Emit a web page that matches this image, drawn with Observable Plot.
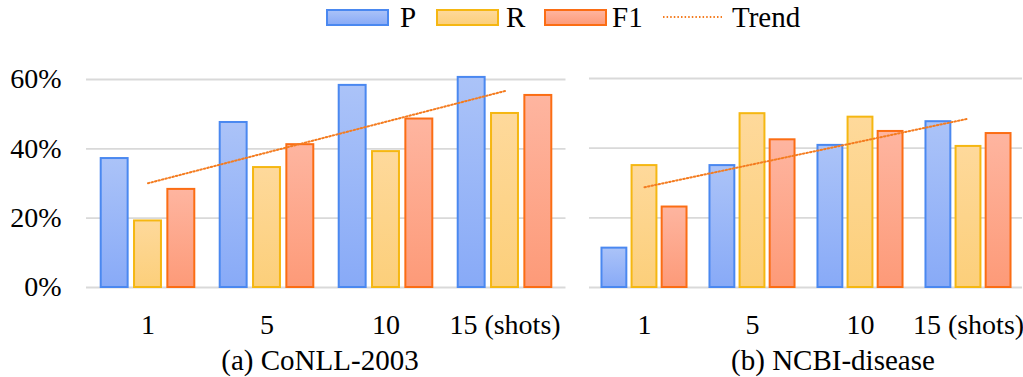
<!DOCTYPE html>
<html><head><meta charset="utf-8">
<script src="https://cdn.jsdelivr.net/npm/d3@7"></script>
<script src="https://cdn.jsdelivr.net/npm/@observablehq/plot@0.6"></script>
<style>
body{margin:0;background:#fff;}
#wrap{position:relative;width:1023px;height:377px;overflow:hidden;font-family:'Liberation Serif';}
#wrap > svg{position:absolute;top:0;}
#wrap svg text{font-family:'Liberation Serif' !important;}
</style></head><body><div id="wrap"></div>
<script>
// ---- data ----
const shots = ["1", "5", "10", "15 (shots)"];
const series = ["P", "R", "F1"];
const conllP  = [37.2, 47.6, 58.3, 60.6];
const conllR  = [19.2, 34.6, 39.2, 50.2];
const conllF1 = [28.3, 41.2, 48.6, 55.4];
const ncbiP   = [11.3, 35.0, 40.8, 47.6];
const ncbiR   = [35.0, 49.9, 48.9, 40.5];
const ncbiF1  = [23.1, 42.4, 44.8, 44.2];
const yTicks = [0, 20, 40, 60];
const panelTitles = ["(a) CoNLL-2003", "(b) NCBI-disease"];
const legendLabels = ["P", "R", "F1", "Trend"];

// ---- styles ----
const FONT = "Liberation Serif";
const sty = {
  P:  {stroke: "#4a88f0", top: "#abc3f8", bottom: "#88aaf7", id: "gP"},
  R:  {stroke: "#f5b712", top: "#fed99b", bottom: "#fccf7a", id: "gR"},
  F1: {stroke: "#fb6d14", top: "#feb5a0", bottom: "#fd9a78", id: "gF1"}
};
const trendColor = "#f47c20";
const trendDash = "1.5 2.1";
const gridColor = "#d9d9d9";

const wrap = document.getElementById("wrap");

// gradient defs
const defsSvg = d3.create("svg").attr("width", 0).attr("height", 0).style("position", "absolute");
const defs = defsSvg.append("defs");
for (const s of series) {
  const g = defs.append("linearGradient").attr("id", sty[s].id).attr("x1", 0).attr("y1", 0).attr("x2", 0).attr("y2", 1);
  g.append("stop").attr("offset", "0%").attr("stop-color", sty[s].top);
  g.append("stop").attr("offset", "100%").attr("stop-color", sty[s].bottom);
}
wrap.appendChild(defsSvg.node());

function trend(vals) {
  const xs = d3.range(vals.length);
  const mx = d3.mean(xs), my = d3.mean(vals);
  const b = d3.sum(xs, (x, i) => (x - mx) * (vals[i] - my)) / d3.sum(xs, x => (x - mx) ** 2);
  const a = my - b * mx;
  return xs.map(i => ({shots: shots[i], value: a + b * i}));
}

function panel({vals, left, width, marginLeft, marginRight, marginTop, showY}) {
  const height = 377;
  const plotW = width - marginLeft - marginRight;
  const band = plotW / shots.length;
  const barW = band * 0.232;
  const step = band * 0.278;
  const inset = (band - barW) / 2;
  const marks = [
    Plot.ruleY(yTicks, {stroke: gridColor, strokeWidth: 1.8})
  ];
  series.forEach((s, j) => {
    const data = shots.map((k, i) => ({shots: k, value: vals[s][i]}));
    marks.push(Plot.barY(data, {
      x: "shots", y: "value",
      fill: `url(#${sty[s].id})`, stroke: sty[s].stroke, strokeWidth: 2,
      insetLeft: inset, insetRight: inset, dx: (j - 1) * step
    }));
  });
  marks.push(Plot.line(trend(vals.F1), {
    x: "shots", y: "value", stroke: trendColor, strokeWidth: 2, strokeDasharray: trendDash
  }));
  if (showY) marks.push(Plot.axisY(yTicks, {tickSize: 0, tickPadding: 25, tickFormat: d => d + "%", fontSize: 28, label: null}));
  marks.push(Plot.axisX({tickSize: 0, tickPadding: 27, fontSize: 28, label: null}));
  const p = Plot.plot({
    width, height, marginLeft, marginRight, marginTop, marginBottom: 90,
    x: {domain: shots, padding: 0, label: null},
    y: {domain: [0, 60], label: null, axis: null},
    style: {fontFamily: FONT, fontSize: "28px", color: "#000", background: "transparent", overflow: "visible"},
    marks
  });
  p.style.position = "absolute";
  p.style.left = left + "px";
  p.style.top = "0px";
  wrap.appendChild(p);
}

panel({vals: {P: conllP, R: conllR, F1: conllF1}, left: 0, width: 566, marginLeft: 86, marginRight: 0.5, marginTop: 79, showY: true});
panel({vals: {P: ncbiP, R: ncbiR, F1: ncbiF1}, left: 566, width: 457, marginLeft: 23, marginRight: 1, marginTop: 78, showY: false});

// ---- overlay: legend + captions ----
const ov = d3.create("svg").attr("width", 1023).attr("height", 377)
  .style("position", "absolute").style("left", "0px").style("top", "0px");
const swX = [327, 437, 545];
series.forEach((s, j) => {
  ov.append("rect").attr("x", swX[j]).attr("y", 10).attr("width", 61).attr("height", 15)
    .attr("fill", `url(#${sty[s].id})`).attr("stroke", sty[s].stroke).attr("stroke-width", 2);
});
ov.append("line").attr("x1", 663).attr("x2", 722).attr("y1", 17).attr("y2", 17)
  .attr("stroke", trendColor).attr("stroke-width", 2).attr("stroke-dasharray", trendDash);
const txX = [400, 506, 612, 732];
legendLabels.forEach((t, j) => {
  ov.append("text").attr("x", txX[j]).attr("y", 27).attr("font-family", FONT).attr("font-size", 29).attr("fill", "#000").text(t);
});
const capX = [320, 833];
panelTitles.forEach((t, j) => {
  ov.append("text").attr("x", capX[j]).attr("y", 370).attr("font-family", FONT).attr("font-size", 29).attr("text-anchor", "middle").attr("fill", "#000").text(t);
});
wrap.appendChild(ov.node());
</script></body></html>
